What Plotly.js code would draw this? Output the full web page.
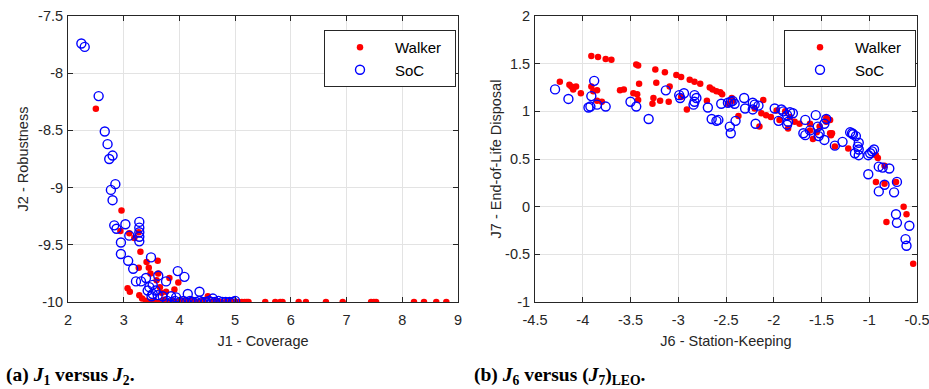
<!DOCTYPE html>
<html>
<head>
<meta charset="utf-8">
<script src="https://cdn.plot.ly/plotly-3.0.1.min.js"></script>
<style>html,body{margin:0;padding:0;background:#fff;}#chart{width:929px;height:389px;}</style>
</head>
<body>
<div id="chart"></div>
<script>
// ---- Data ----
const walkerJ1 = [2.50, 2.96, 2.94, 3.10, 3.19, 3.27, 3.30, 3.41, 3.61, 3.27, 3.45, 3.48, 3.62, 3.82, 3.98, 3.59, 3.07, 3.11, 3.28, 3.33, 3.91, 3.65, 3.76, 3.68, 4.51,
  3.40, 3.47, 3.55, 3.63, 3.72, 3.80, 3.88, 3.97, 4.06, 4.14, 4.22, 4.33, 4.42, 4.58, 4.66, 4.74, 4.83, 4.91, 4.99, 5.05, 5.12, 5.17, 5.21, 5.24,
  5.54, 5.72, 5.81, 5.85, 6.14, 6.27, 6.63, 6.93, 7.44, 7.49, 7.53, 8.21, 8.39, 8.61, 8.79];
const walkerJ2 = [-8.31, -9.20, -9.38, -9.40, -9.44, -9.39, -9.56, -9.65, -9.64, -9.70, -9.70, -9.75, -9.75, -9.79, -9.83, -9.81, -9.88, -9.91, -9.94, -9.97, -9.89, -9.87, -9.91, -9.92, -9.95,
  -9.99, -10, -9.99, -10, -9.98, -10, -9.99, -10, -9.99, -10, -9.98, -10, -9.99, -10, -9.99, -10, -10, -9.99, -10, -10, -10, -10, -10, -10,
  -10, -10, -10, -10, -10, -10, -10, -10, -10, -10, -10, -10, -10, -10, -10];
const socJ1 = [2.24, 2.30, 2.55, 2.66, 2.71, 2.80, 2.74, 2.85, 2.77, 2.80, 2.83, 2.87, 3.03, 3.10, 3.28, 3.28, 3.28, 3.28, 3.28, 2.95, 2.95, 3.08, 3.17, 3.49, 3.22, 3.31, 3.40, 3.46, 3.52, 3.43, 3.52, 3.61, 3.76, 3.62, 3.97, 4.09, 3.70, 3.85, 3.94, 4.15, 4.36, 4.60, 3.50, 3.57,
  3.78, 3.86, 3.92, 4.01, 4.07, 4.12, 4.19, 4.24, 4.30, 4.36, 4.41, 4.47, 4.53, 4.58, 4.64, 4.70, 4.77, 4.83, 4.90, 4.96, 5.00];
const socJ2 = [-7.74, -7.77, -8.20, -8.51, -8.62, -8.72, -8.75, -8.97, -9.02, -9.11, -9.33, -9.36, -9.32, -9.42, -9.30, -9.35, -9.39, -9.43, -9.47, -9.48, -9.58, -9.64, -9.71, -9.61, -9.82, -9.82, -9.79, -9.87, -9.85, -9.90, -9.93, -9.94, -9.82, -9.77, -9.73, -9.78, -9.95, -9.95, -9.96, -9.93, -9.91, -9.97, -9.95, -9.90,
  -9.99, -10, -9.99, -10, -9.99, -10, -9.99, -10, -10, -9.99, -10, -10, -9.99, -10, -10, -9.99, -10, -10, -10, -10, -9.99];

const walkerJ6 = [-3.91, -3.84, -3.76, -3.70, -3.44, -3.42, -3.24, -3.14, -3.02, -2.97, -2.88, -2.83, -2.77, -2.67, -2.64, -2.60, -2.56, -2.54,
  -4.24, -4.14, -4.12, -4.07, -4.10, -4.02, -3.91, -3.89, -3.85, -3.85, -3.80, -3.61, -3.57, -3.47, -3.43, -3.41, -3.42, -3.26, -3.27, -3.23, -3.19, -3.10, -3.09, -2.97, -2.91, -2.70,
  -2.48, -2.44, -2.43, -2.37, -2.15, -2.11, -2.13, -2.20, -2.08, -2.03, -1.97, -1.94, -1.88, -1.83, -1.85, -1.78, -1.73, -1.62, -1.55, -1.59, -1.52, -1.45, -1.41, -1.40, -1.36, -1.62, -1.45, -1.41, -1.39,
  -1.22, -0.93, -0.91, -0.84, -0.93, -0.84, -0.72, -0.64, -0.61, -0.82, -0.54];
const walkerJ7 = [1.58, 1.57, 1.55, 1.54, 1.49, 1.48, 1.44, 1.41, 1.38, 1.36, 1.33, 1.31, 1.29, 1.25, 1.23, 1.21, 1.20, 1.18,
  1.31, 1.28, 1.26, 1.26, 1.23, 1.19, 1.26, 1.21, 1.22, 1.11, 1.10, 1.22, 1.23, 1.19, 1.18, 1.29, 1.12, 1.14, 1.08, 1.30, 1.11, 1.10, 1.26, 1.15, 1.02, 1.11,
  1.08, 1.14, 1.11, 0.95, 0.84, 1.12, 0.98, 1.03, 0.96, 0.94, 1.01, 0.91, 1.00, 0.94, 0.82, 0.89, 0.87, 0.80, 0.78, 0.71, 0.84, 0.89, 0.77, 0.75, 0.63, 0.87, 0.93, 0.91, 0.77,
  0.61, 0.54, 0.51, 0.43, 0.26, 0.24, 0.26, 0.00, -0.08, -0.16, -0.60];
const socJ6 = [-4.29, -4.15, -3.88, -3.91, -3.94, -3.92, -3.85, -3.76, -3.50, -3.44, -3.31, -3.13, -2.99, -2.98, -2.94, -2.83, -2.81, -2.83, -2.84, -2.69, -2.65, -2.60,
  -2.55, -2.48, -2.45, -2.43, -2.41, -2.31, -2.30, -2.58, -2.46, -2.45, -2.40, -2.22, -2.20, -2.16, -2.22, -2.19, -1.99, -1.92, -1.90, -1.86, -1.83, -1.80, -1.95, -1.86, -1.85,
  -1.67, -1.69, -1.67, -1.62, -1.54, -1.52, -1.56, -1.47, -1.45, -1.47, -1.53, -1.36, -1.28, -1.20, -1.17, -1.14, -1.18, -1.11, -1.12, -1.11, -1.15, -1.11,
  -1.01, -0.99, -0.97, -0.95, -0.90, -0.86, -0.79, -1.01, -0.90, -0.84, -0.74, -0.71, -0.72, -0.71, -0.58, -0.62, -0.61];
const socJ7 = [1.23, 1.13, 1.32, 1.16, 1.04, 1.05, 1.07, 1.05, 1.10, 1.05, 0.92, 1.22, 1.17, 1.14, 1.19, 1.17, 1.14, 1.10, 1.07, 1.04, 0.92, 0.90,
  1.08, 1.09, 1.10, 1.11, 1.08, 1.14, 1.03, 0.91, 0.84, 0.77, 0.90, 1.09, 1.07, 1.06, 1.02, 0.87, 1.03, 1.02, 1.00, 0.96, 0.99, 0.98, 0.90, 0.86, 0.89,
  0.91, 0.77, 0.75, 0.80, 0.84, 0.77, 0.96, 0.87, 0.92, 0.70, 0.74, 0.64, 0.68, 0.78, 0.76, 0.74, 0.77, 0.67, 0.63, 0.60, 0.56, 0.54,
  0.54, 0.56, 0.58, 0.60, 0.42, 0.41, 0.40, 0.34, 0.16, 0.23, 0.15, 0.26, -0.08, -0.17, -0.20, -0.34, -0.41];

// ---- Tick labels ----
const j1Ticks = [2, 3, 4, 5, 6, 7, 8, 9];
const j1Labels = ['2', '3', '4', '5', '6', '7', '8', '9'];
const j2Ticks = [-10, -9.5, -9, -8.5, -8, -7.5];
const j2Labels = ['-10', '-9.5', '-9', '-8.5', '-8', '-7.5'];
const j6Ticks = [-4.5, -4, -3.5, -3, -2.5, -2, -1.5, -1, -0.5];
const j6Labels = ['-4.5', '-4', '-3.5', '-3', '-2.5', '-2', '-1.5', '-1', '-0.5'];
const j7Ticks = [-1, -0.5, 0, 0.5, 1, 1.5, 2];
const j7Labels = ['-1', '-0.5', '0', '0.5', '1', '1.5', '2'];

const seriesNames = ['Walker', 'SoC'];

// ---- Styles ----
const W = 929, H = 389;
const ink = '#262626';
const gridCol = '#e3e3e3';
const font = 'Liberation Sans, Arial, Helvetica, sans-serif';
const walkerMarker = {symbol: 'circle', size: 6.5, color: '#ff0000'};
const socMarker = {symbol: 'circle-open', size: 9, color: '#0000ff', line: {width: 1.4, color: '#0000ff'}};
const pad = '\u00a0\u00a0';

const traces = [
  {x: walkerJ1, y: walkerJ2, type: 'scatter', mode: 'markers', name: seriesNames[0] + pad, marker: walkerMarker, xaxis: 'x', yaxis: 'y', legend: 'legend'},
  {x: socJ1, y: socJ2, type: 'scatter', mode: 'markers', name: seriesNames[1], marker: socMarker, xaxis: 'x', yaxis: 'y', legend: 'legend'},
  {x: walkerJ6, y: walkerJ7, type: 'scatter', mode: 'markers', name: seriesNames[0] + pad, marker: walkerMarker, xaxis: 'x2', yaxis: 'y2', legend: 'legend2'},
  {x: socJ6, y: socJ7, type: 'scatter', mode: 'markers', name: seriesNames[1], marker: socMarker, xaxis: 'x2', yaxis: 'y2', legend: 'legend2'}
];

function axis(domain, range, tv, tt, title, anchor, standoff, isX) {
  return {
    domain: domain, range: range, anchor: anchor,
    tickmode: 'array', tickvals: tv, ticktext: tt,
    ticks: 'inside', ticklen: 5, tickwidth: 1, tickcolor: ink,
    ticklabelstandoff: isX ? 5 : 1,
    ticklabeloverflow: 'allow',
    showline: true, linecolor: ink, linewidth: 1, mirror: 'ticks',
    showgrid: true, gridcolor: gridCol, gridwidth: 1,
    zeroline: false,
    tickfont: {family: font, size: 14.5, color: ink},
    title: {text: title, font: {family: font, size: 14.5, color: ink}, standoff: standoff},
    automargin: false, fixedrange: true
  };
}

const pyTop = 1 - 16 / H, pyBot = 1 - 302 / H;

function legendCfg(xRight) {
  return {
    x: xRight / W, xanchor: 'right', y: 1 - 30 / H, yanchor: 'top',
    bgcolor: '#ffffff', bordercolor: ink, borderwidth: 1,
    font: {family: font, size: 15, color: '#000'},
    itemwidth: 60, tracegroupgap: 0
  };
}

const layout = {
  width: W, height: H,
  margin: {l: 0, r: 0, t: 0, b: 0},
  paper_bgcolor: '#ffffff', plot_bgcolor: '#ffffff',
  showlegend: true,
  xaxis: axis([68 / W, 458 / W], [2, 9], j1Ticks, j1Labels, 'J1 - Coverage', 'y', 8, true),
  yaxis: axis([pyBot, pyTop], [-10, -7.5], j2Ticks, j2Labels, 'J2 - Robustness', 'x', 6, false),
  xaxis2: axis([535 / W, 917 / W], [-4.5, -0.5], j6Ticks, j6Labels, 'J6 - Station-Keeping', 'y2', 8, true),
  yaxis2: axis([pyBot, pyTop], [-1, 2], j7Ticks, j7Labels, 'J7 - End-of-Life Disposal', 'x2', 0, false),
  legend: legendCfg(456),
  legend2: legendCfg(916),
  annotations: [
    {xref: 'paper', yref: 'paper', x: 4 / W, y: 1 - 376 / H, xanchor: 'left', yanchor: 'middle', showarrow: false,
     text: '<b>(a) <i>J</i><sub>1</sub> versus <i>J</i><sub>2</sub>.</b>', font: {family: 'Liberation Serif, Times New Roman, serif', size: 19.5, color: '#000'}},
    {xref: 'paper', yref: 'paper', x: 472 / W, y: 1 - 376 / H, xanchor: 'left', yanchor: 'middle', showarrow: false,
     text: '<b>(b) <i>J</i><sub>6</sub> versus (<i>J</i><sub>7</sub>)<sub>LEO</sub>.</b>', font: {family: 'Liberation Serif, Times New Roman, serif', size: 19.5, color: '#000'}}
  ]
};

Plotly.newPlot('chart', traces, layout, {staticPlot: true, displayModeBar: false});
</script>
</body>
</html>
